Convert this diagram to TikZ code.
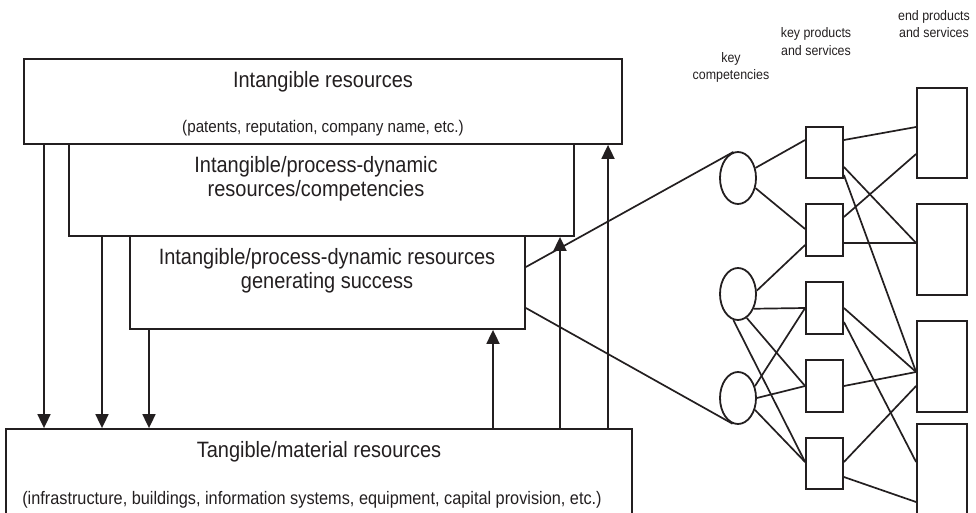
\documentclass[tikz,border=0pt]{standalone}
\usepackage{fontspec}
\setmainfont{Liberation Sans}
\newfontfamily\narrowfont[FakeStretch=0.9]{Liberation Sans}
\usetikzlibrary{arrows.meta,shapes.geometric}
\definecolor{ink}{HTML}{231F20}
\begin{document}
\begin{tikzpicture}[x=1pt,y=-1pt,
  every node/.style={text=ink},
  rbox/.style={draw=ink, line width=1.8pt, rectangle, inner sep=0pt},
  ebox/.style={draw=ink, line width=1.8pt, ellipse, inner sep=0pt, minimum width=36pt, minimum height=52pt},
  kbox/.style={rbox, minimum width=37pt, minimum height=51.5pt},
  nbox/.style={rbox, minimum width=50pt, minimum height=91pt},
  big/.style={font=\narrowfont\fontsize{22.2}{24}\selectfont, align=center, inner sep=0pt},
  sub/.style={font=\narrowfont\fontsize{16.9}{18}\selectfont, inner sep=0pt},
  sublong/.style={font=\narrowfont\fontsize{18.1}{18}\selectfont, inner sep=0pt},
  small/.style={font=\narrowfont\fontsize{13.8}{17.5}\selectfont, align=center, inner sep=0pt},
  arr/.style={draw=ink, line width=1.8pt, -{Triangle[length=14pt,width=13pt]}},
  link/.style={draw=ink, line width=1.7pt}
]
\useasboundingbox (0,0) rectangle (976,513);

% main boxes
\node[rbox, minimum width=598pt, minimum height=85pt] (b1) at (323,101.5) {};
\node[rbox, minimum width=505pt, minimum height=92pt] (b2) at (321.5,190) {};
\node[rbox, minimum width=395pt, minimum height=93pt] (b3) at (327.5,282.5) {};
\node[rbox, minimum width=626pt, minimum height=91pt] (tb) at (319,474.5) {};

% texts
\node[big] (t1) at (323,82) {Intangible resources};
\node[sub] (t1s) at (323,128) {(patents, reputation, company name, etc.)};
\node[big] (t2) at (316,178.5) {Intangible/process-dynamic\\resources/competencies};
\node[big] (t3) at (327,270.5) {Intangible/process-dynamic resources\\generating success};
\node[big] (t4) at (319,452) {Tangible/material resources};
\node[sublong] (t4s) at (312,500) {(infrastructure, buildings, information systems, equipment, capital provision, etc.)};

% vertical arrows
\coordinate (a1) at (44,0);
\coordinate (a2) at (102,0);
\coordinate (a3) at (149,0);
\coordinate (u1) at (493,0);
\coordinate (u2) at (560,0);
\coordinate (u3) at (608,0);
\draw[arr] (b1.south -| a1) -- (tb.north -| a1);
\draw[arr] (b2.south -| a2) -- (tb.north -| a2);
\draw[arr] (b3.south -| a3) -- (tb.north -| a3);
\draw[arr] (tb.north -| u1) -- (b3.south -| u1);
\draw[arr] (tb.north -| u2) -- (b2.south -| u2);
\draw[arr] (tb.north -| u3) -- (b1.south -| u3);

% network nodes
\node[ebox] (e1) at (738,178) {};
\node[ebox] (e2) at (738,294) {};
\node[ebox] (e3) at (738,398) {};
\node[kbox] (k1) at (824.5,152.5) {};
\node[kbox] (k2) at (824.5,230) {};
\node[kbox] (k3) at (824.5,308) {};
\node[kbox] (k4) at (824.5,386) {};
\node[kbox] (k5) at (824.5,463.5) {};
\node[nbox, minimum height=90pt] (n1) at (942,133) {};
\node[nbox] (n2) at (942,249.5) {};
\node[nbox] (n3) at (942,366.5) {};
\node[nbox] (n4) at (942,469.5) {};

% column labels
\node[small] (l1) at (731,67.5) {key\\competencies};
\node[small] (l2) at (816,41.5) {key products\\and services};
\node[small] (l3) at (934,24) {end products\\and services};

% links
\draw[link] ([yshift=15.5pt]b3.east) -- (e1.100);
\draw[link] ([yshift=-25.5pt]b3.east) -- (e3.258);
\draw[link] (e1.30) -- ([yshift=12.5pt]k1.west);
\draw[link] (e1.-30) -- ([yshift=1pt]k2.west);
\draw[link] (e2.10) -- ([yshift=-15pt]k2.west);
\draw[link] (e2.-43) -- (k3.west);
\draw[link] (e2.260) -- ([yshift=1.5pt]k5.west);
\draw[link] (e2.290) -- (k4.west);
\draw[link] (e3.35) -- (k3.west);
\draw[link] (e3.east) -- (k4.west);
\draw[link] (e3.-35) -- ([yshift=1.5pt]k5.west);
\draw[link] ([yshift=12.5pt]k1.east) -- ([yshift=6pt]n1.west);
\draw[link] ([yshift=-14.5pt]k1.east) -- ([yshift=6.5pt]n2.west);
\draw[link] ([yshift=-22.5pt]k1.east) -- ([yshift=-5.5pt]n3.west);
\draw[link] ([yshift=13pt]k2.east) -- ([yshift=-21pt]n1.west);
\draw[link] ([yshift=-13pt]k2.east) -- ([yshift=6.5pt]n2.west);
\draw[link] (k3.east) -- ([yshift=-5.5pt]n3.west);
\draw[link] ([yshift=-14pt]k3.east) -- ([yshift=7.5pt]n4.west);
\draw[link] (k4.east) -- ([yshift=-5.5pt]n3.west);
\draw[link] ([yshift=1.5pt]k5.east) -- ([yshift=-19.5pt]n3.west);
\draw[link] ([yshift=-13.5pt]k5.east) -- ([yshift=-32.5pt]n4.west);
\end{tikzpicture}
\end{document}
